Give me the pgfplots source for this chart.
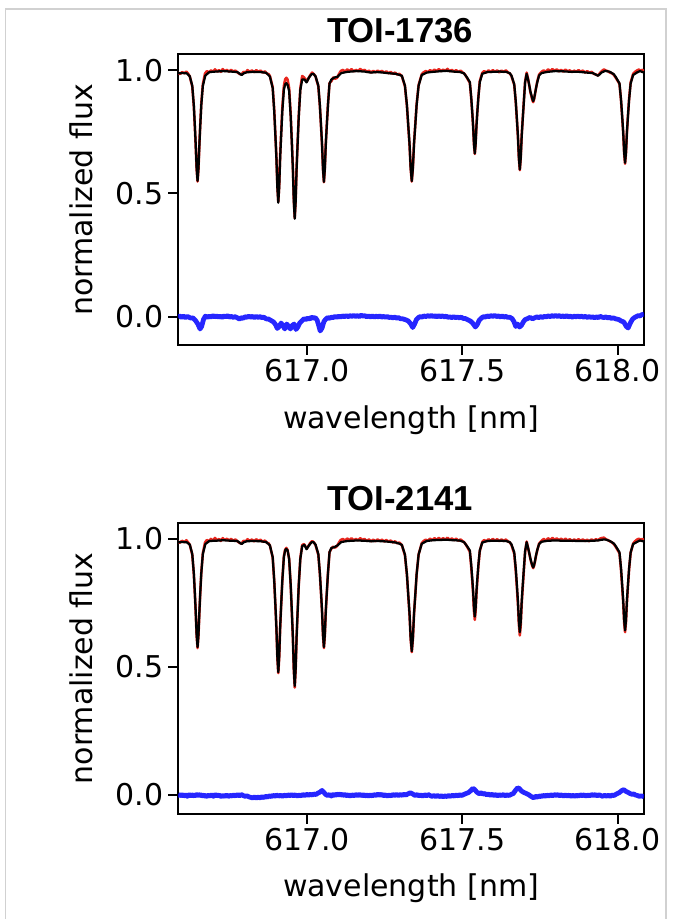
\documentclass[border=0pt]{standalone}
\usepackage{pgfplots}
\usepackage{pgfplotstable}
\pgfplotsset{compat=1.18}
\usepackage{fontspec}
\setmainfont{DejaVu Sans}
\newfontfamily\titlefont{Liberation Sans}
\definecolor{obsred}{RGB}{232,38,30}
\definecolor{resblue}{RGB}{0,0,255}
\newcommand{\lab}{\fontsize{22.5}{27}\selectfont}

% ---------------- TOI-1736 ----------------
\pgfplotstableread{
x y
616.584 0.990
616.590 0.984
616.597 0.992
616.604 0.987
616.611 0.994
616.617 0.985
616.622 0.974
616.630 0.933
616.635 0.852
616.6385 0.762
616.641 0.693
616.644 0.598
616.647 0.548
616.650 0.600
616.653 0.702
616.6555 0.775
616.659 0.864
616.664 0.942
616.671 0.986
616.677 0.996
616.684 0.990
616.690 0.999
616.697 0.993
616.703 1.003
616.710 0.994
616.716 1.000
616.722 0.993
616.728 1.004
616.735 0.996
616.742 1.001
616.748 0.993
616.755 1.001
616.762 0.994
616.769 0.998
616.776 0.990
616.783 0.984
616.789 0.983
616.795 0.993
616.802 0.990
616.808 1.000
616.815 0.992
616.822 0.999
616.829 0.991
616.836 1.000
616.843 0.993
616.850 0.998
616.857 0.990
616.864 0.995
616.870 0.986
616.876 0.984
616.880 0.976
616.889 0.931
616.894 0.838
616.898 0.730
616.901 0.647
616.904 0.530
616.907 0.466
616.910 0.532
616.913 0.652
616.916 0.738
616.920 0.848
616.925 0.936
616.929 0.962
616.933 0.969
616.937 0.962
616.942 0.927
616.947 0.820
616.951 0.702
616.954 0.605
616.957 0.472
616.960 0.400
616.963 0.472
616.966 0.603
616.969 0.698
616.973 0.818
616.978 0.926
616.984 0.976
616.990 0.970
616.995 0.962
616.999 0.954
617.004 0.966
617.010 0.980
617.016 0.990
617.022 0.983
617.027 0.974
617.036 0.934
617.041 0.853
617.045 0.764
617.048 0.695
617.051 0.598
617.054 0.545
617.057 0.603
617.060 0.702
617.063 0.774
617.067 0.862
617.072 0.947
617.078 0.955
617.084 0.970
617.090 0.965
617.096 0.968
617.102 0.983
617.108 0.996
617.115 1.001
617.122 0.994
617.129 1.003
617.136 0.996
617.143 1.004
617.150 0.995
617.157 1.001
617.164 0.996
617.171 1.005
617.178 0.997
617.185 1.001
617.192 0.992
617.199 0.998
617.206 0.990
617.213 0.997
617.220 0.991
617.227 0.998
617.234 0.992
617.241 0.997
617.248 0.989
617.255 0.995
617.262 0.987
617.269 0.993
617.276 0.985
617.283 0.990
617.290 0.982
617.297 0.985
617.305 0.976
617.315 0.934
617.3214 0.853
617.326 0.765
617.3298 0.695
617.3334 0.600
617.337 0.548
617.3406 0.605
617.3442 0.704
617.348 0.775
617.3526 0.862
617.359 0.940
617.369 0.983
617.375 0.991
617.382 0.996
617.389 0.992
617.396 1.000
617.403 0.994
617.410 1.002
617.417 0.995
617.424 1.004
617.431 0.996
617.438 1.002
617.445 0.997
617.452 1.005
617.459 0.995
617.466 1.001
617.473 0.994
617.480 1.000
617.487 0.992
617.494 0.998
617.500 0.991
617.506 0.986
617.511 0.977
617.515 0.968
617.524 0.948
617.5283 0.888
617.532 0.822
617.5346 0.770
617.5373 0.698
617.540 0.660
617.5427 0.703
617.5454 0.778
617.548 0.830
617.5517 0.895
617.556 0.955
617.564 0.989
617.570 0.996
617.577 0.990
617.584 0.999
617.591 0.992
617.598 1.000
617.605 0.993
617.612 0.999
617.619 0.991
617.626 0.998
617.633 0.992
617.640 0.999
617.647 0.990
617.653 0.986
617.658 0.976
617.667 0.940
617.672 0.868
617.676 0.789
617.679 0.727
617.682 0.640
617.685 0.594
617.688 0.646
617.691 0.735
617.694 0.797
617.698 0.876
617.702 0.953
617.707 0.990
617.712 0.962
617.716 0.933
617.719 0.910
617.722 0.896
617.725 0.880
617.728 0.870
617.731 0.882
617.734 0.903
617.737 0.926
617.741 0.953
617.747 0.982
617.755 0.993
617.762 0.999
617.769 0.993
617.776 1.003
617.783 0.996
617.790 1.004
617.797 0.997
617.804 1.003
617.811 0.995
617.818 1.001
617.825 0.994
617.832 1.002
617.839 0.995
617.846 0.999
617.853 0.992
617.860 0.998
617.867 0.993
617.874 1.000
617.881 0.994
617.888 0.998
617.895 0.990
617.902 0.996
617.909 0.989
617.916 0.993
617.923 0.985
617.930 0.982
617.937 0.978
617.943 0.988
617.950 0.997
617.956 1.003
617.962 0.998
617.968 0.996
617.975 0.990
617.982 0.987
617.988 0.980
617.995 0.967
618.006 0.944
618.011 0.876
618.015 0.803
618.018 0.744
618.021 0.664
618.024 0.620
618.027 0.666
618.030 0.748
618.033 0.810
618.037 0.884
618.042 0.950
618.050 0.985
618.056 0.993
618.062 0.998
618.068 1.002
618.074 0.998
618.080 1.001
618.085 0.996
}\topobs

\pgfplotstableread{
x y
616.584 0.987
616.600 0.988
616.612 0.987
616.622 0.975
616.630 0.936
616.635 0.857
616.6385 0.769
616.641 0.700
616.644 0.603
616.647 0.551
616.650 0.603
616.653 0.700
616.6555 0.769
616.659 0.857
616.664 0.936
616.672 0.978
616.685 0.992
616.705 0.994
616.730 0.996
616.755 0.994
616.775 0.992
616.782 0.986
616.789 0.980
616.796 0.987
616.805 0.991
616.825 0.993
616.850 0.992
616.868 0.989
616.880 0.974
616.889 0.927
616.894 0.832
616.898 0.726
616.901 0.642
616.904 0.525
616.907 0.462
616.910 0.525
616.913 0.642
616.916 0.726
616.920 0.832
616.925 0.920
616.929 0.942
616.933 0.947
616.937 0.940
616.942 0.915
616.947 0.812
616.951 0.693
616.954 0.599
616.957 0.468
616.960 0.397
616.963 0.468
616.966 0.599
616.969 0.693
616.973 0.812
616.978 0.919
616.984 0.962
616.991 0.962
616.998 0.950
617.006 0.970
617.014 0.983
617.020 0.985
617.027 0.975
617.036 0.937
617.041 0.857
617.045 0.768
617.048 0.698
617.051 0.600
617.054 0.547
617.057 0.600
617.060 0.698
617.063 0.768
617.067 0.857
617.072 0.945
617.078 0.962
617.088 0.970
617.098 0.973
617.110 0.988
617.130 0.993
617.160 0.996
617.185 0.994
617.205 0.990
617.225 0.992
617.245 0.990
617.265 0.987
617.285 0.985
617.296 0.981
617.305 0.977
617.315 0.937
617.3214 0.858
617.326 0.770
617.3298 0.700
617.3334 0.603
617.337 0.550
617.3406 0.603
617.3442 0.700
617.348 0.770
617.3526 0.858
617.359 0.937
617.369 0.980
617.385 0.990
617.405 0.993
617.425 0.995
617.450 0.997
617.470 0.994
617.490 0.993
617.505 0.987
617.515 0.970
617.524 0.951
617.5283 0.892
617.532 0.826
617.5346 0.774
617.5373 0.701
617.540 0.662
617.5427 0.701
617.5454 0.774
617.548 0.826
617.5517 0.892
617.556 0.951
617.564 0.985
617.580 0.992
617.600 0.993
617.620 0.994
617.640 0.993
617.652 0.988
617.658 0.978
617.667 0.943
617.672 0.872
617.676 0.793
617.679 0.731
617.682 0.644
617.685 0.597
617.688 0.644
617.691 0.731
617.694 0.793
617.698 0.872
617.702 0.950
617.707 0.985
617.712 0.960
617.716 0.935
617.719 0.914
617.722 0.900
617.725 0.885
617.728 0.874
617.731 0.885
617.734 0.905
617.737 0.925
617.741 0.950
617.747 0.978
617.755 0.988
617.775 0.993
617.800 0.996
617.825 0.995
617.850 0.993
617.875 0.993
617.900 0.990
617.920 0.988
617.937 0.977
617.948 0.990
617.960 0.997
617.975 0.993
617.988 0.983
617.995 0.970
618.006 0.946
618.011 0.880
618.015 0.807
618.018 0.748
618.021 0.668
618.024 0.624
618.027 0.668
618.030 0.748
618.033 0.807
618.037 0.880
618.042 0.946
618.050 0.980
618.062 0.990
618.072 0.996
618.085 0.990
}\topmod

\pgfplotstableread{
x y
616.584 -0.002
616.590 0.003
616.596 -0.003
616.602 0.002
616.608 -0.004
616.614 0.001
616.620 -0.003
616.626 -0.006
616.632 -0.005
616.640 -0.015
616.648 -0.030
616.655 -0.050
616.660 -0.040
616.666 -0.012
616.672 0.002
616.678 -0.003
616.684 0.002
616.690 -0.002
616.696 0.004
616.702 -0.001
616.708 0.003
616.714 -0.002
616.720 0.002
616.726 -0.003
616.732 0.003
616.738 -0.001
616.744 0.004
616.750 -0.002
616.756 0.001
616.762 -0.003
616.768 0.000
616.774 -0.004
616.782 -0.010
616.788 -0.004
616.794 -0.007
616.800 0.000
616.806 -0.003
616.812 0.002
616.818 -0.002
616.824 0.001
616.830 -0.004
616.836 0.001
616.842 -0.003
616.848 0.000
616.854 -0.004
616.860 -0.002
616.868 -0.009
616.876 -0.010
616.884 -0.016
616.892 -0.022
616.898 -0.032
616.904 -0.048
616.910 -0.040
616.916 -0.026
616.922 -0.036
616.928 -0.050
616.934 -0.030
616.940 -0.038
616.946 -0.050
616.952 -0.036
616.958 -0.030
616.964 -0.052
616.970 -0.042
616.976 -0.026
616.984 -0.016
616.990 -0.008
616.996 -0.012
617.002 -0.006
617.008 -0.010
617.014 -0.002
617.020 -0.006
617.026 -0.004
617.032 -0.014
617.036 -0.030
617.042 -0.058
617.048 -0.046
617.054 -0.020
617.060 -0.010
617.066 -0.004
617.072 -0.007
617.078 -0.002
617.084 -0.004
617.090 0.001
617.096 -0.003
617.102 0.002
617.108 -0.002
617.114 0.003
617.120 0.000
617.126 0.004
617.132 0.000
617.138 0.004
617.144 0.001
617.150 0.005
617.156 0.001
617.162 0.004
617.168 0.000
617.174 0.006
617.180 0.002
617.186 0.004
617.192 -0.001
617.198 0.003
617.204 -0.001
617.210 0.003
617.216 -0.002
617.222 0.002
617.228 -0.001
617.234 0.003
617.240 -0.002
617.246 0.001
617.252 -0.003
617.258 0.001
617.264 -0.004
617.270 -0.002
617.276 -0.005
617.282 -0.002
617.288 -0.006
617.294 -0.004
617.300 -0.008
617.308 -0.009
617.318 -0.013
617.326 -0.018
617.334 -0.030
617.340 -0.044
617.346 -0.030
617.352 -0.012
617.358 -0.004
617.364 0.000
617.370 -0.002
617.376 0.003
617.382 0.000
617.388 0.004
617.394 0.001
617.400 0.005
617.406 0.000
617.412 0.004
617.418 -0.001
617.424 0.004
617.430 0.000
617.436 0.003
617.442 -0.001
617.448 0.002
617.454 -0.003
617.460 -0.001
617.466 -0.004
617.472 0.000
617.478 -0.004
617.484 -0.002
617.490 -0.005
617.496 -0.002
617.502 -0.007
617.510 -0.008
617.518 -0.013
617.526 -0.018
617.534 -0.028
617.542 -0.042
617.548 -0.032
617.554 -0.015
617.562 -0.005
617.568 0.000
617.574 -0.002
617.580 0.003
617.586 0.000
617.592 0.004
617.598 0.001
617.604 0.005
617.610 0.000
617.616 0.003
617.622 -0.001
617.628 0.003
617.634 -0.002
617.640 0.001
617.646 -0.003
617.652 -0.002
617.660 -0.008
617.666 -0.020
617.672 -0.040
617.678 -0.030
617.684 -0.042
617.690 -0.036
617.696 -0.022
617.702 -0.012
617.710 -0.008
617.718 -0.003
617.726 -0.009
617.734 -0.004
617.740 -0.001
617.746 -0.004
617.752 0.000
617.758 -0.003
617.764 0.001
617.770 -0.001
617.776 0.003
617.782 0.000
617.788 0.004
617.794 0.001
617.800 0.005
617.806 0.001
617.812 0.004
617.818 0.000
617.824 0.003
617.830 -0.001
617.836 0.004
617.842 -0.001
617.848 0.002
617.854 -0.002
617.860 0.002
617.866 -0.001
617.872 0.003
617.878 -0.001
617.884 0.002
617.890 -0.002
617.896 0.001
617.902 -0.003
617.908 0.000
617.914 -0.003
617.920 -0.001
617.926 -0.005
617.932 -0.001
617.938 -0.004
617.944 0.001
617.950 -0.002
617.956 -0.004
617.962 -0.001
617.968 -0.005
617.974 -0.003
617.980 -0.007
617.986 -0.005
617.994 -0.009
618.004 -0.012
618.012 -0.018
618.020 -0.022
618.028 -0.040
618.034 -0.046
618.040 -0.028
618.048 -0.010
618.054 -0.004
618.060 0.000
618.066 0.004
618.072 0.003
618.078 0.008
618.085 0.010
}\topres

% ---------------- TOI-2141 ----------------
\pgfplotstableread{
x y
616.584 0.990
616.590 0.985
616.597 0.993
616.604 0.987
616.611 0.995
616.617 0.986
616.622 0.977
616.630 0.938
616.635 0.862
616.6385 0.780
616.641 0.714
616.644 0.622
616.647 0.574
616.650 0.624
616.653 0.716
616.6555 0.784
616.659 0.868
616.664 0.944
616.671 0.986
616.677 0.996
616.684 0.991
616.690 1.000
616.697 0.993
616.703 1.004
616.710 0.994
616.716 1.000
616.722 0.992
616.728 1.003
616.735 0.995
616.742 1.001
616.748 0.993
616.755 1.000
616.762 0.993
616.769 0.998
616.776 0.990
616.783 0.984
616.789 0.982
616.795 0.993
616.802 0.990
616.808 0.999
616.815 0.992
616.822 0.998
616.829 0.990
616.836 0.999
616.843 0.992
616.850 0.997
616.857 0.989
616.864 0.994
616.870 0.985
616.876 0.983
616.880 0.974
616.889 0.928
616.894 0.834
616.898 0.731
616.901 0.648
616.904 0.536
616.907 0.476
616.910 0.538
616.913 0.650
616.916 0.734
616.920 0.838
616.925 0.932
616.929 0.958
616.933 0.965
616.937 0.957
616.942 0.922
616.947 0.818
616.951 0.704
616.954 0.613
616.957 0.488
616.960 0.420
616.963 0.490
616.966 0.615
616.969 0.706
616.973 0.822
616.978 0.925
616.984 0.976
616.990 0.980
616.995 0.970
616.999 0.962
617.004 0.972
617.010 0.985
617.016 0.992
617.022 0.986
617.027 0.976
617.036 0.938
617.041 0.862
617.045 0.780
617.048 0.714
617.051 0.622
617.054 0.574
617.057 0.624
617.060 0.716
617.063 0.784
617.067 0.866
617.072 0.948
617.078 0.962
617.084 0.970
617.090 0.966
617.096 0.972
617.102 0.985
617.108 0.996
617.115 1.000
617.122 0.993
617.129 1.002
617.136 0.995
617.143 1.003
617.150 0.994
617.157 1.000
617.164 0.995
617.171 1.003
617.178 0.996
617.185 1.000
617.192 0.992
617.199 0.998
617.206 0.991
617.213 0.997
617.220 0.991
617.227 0.998
617.234 0.992
617.241 0.997
617.248 0.990
617.255 0.996
617.262 0.989
617.269 0.994
617.276 0.986
617.283 0.991
617.290 0.983
617.297 0.986
617.305 0.976
617.315 0.936
617.3214 0.858
617.326 0.772
617.3298 0.703
617.3334 0.608
617.337 0.558
617.3406 0.610
617.3442 0.706
617.348 0.775
617.3526 0.862
617.359 0.940
617.369 0.983
617.375 0.992
617.382 0.997
617.389 0.993
617.396 1.001
617.403 0.995
617.410 1.003
617.417 0.996
617.424 1.004
617.431 0.997
617.438 1.003
617.445 0.997
617.452 1.005
617.459 0.996
617.466 1.002
617.473 0.995
617.480 1.001
617.487 0.993
617.494 0.998
617.500 0.992
617.506 0.987
617.511 0.978
617.515 0.970
617.524 0.950
617.5283 0.893
617.532 0.832
617.5346 0.784
617.5373 0.718
617.540 0.684
617.5427 0.720
617.5454 0.786
617.548 0.834
617.5517 0.896
617.556 0.952
617.564 0.988
617.570 0.996
617.577 0.990
617.584 0.999
617.591 0.992
617.598 1.000
617.605 0.993
617.612 0.999
617.619 0.991
617.626 0.998
617.633 0.992
617.640 0.998
617.647 0.990
617.653 0.986
617.658 0.977
617.667 0.942
617.672 0.874
617.676 0.801
617.679 0.743
617.682 0.665
617.685 0.623
617.688 0.666
617.691 0.745
617.694 0.803
617.698 0.877
617.702 0.948
617.707 0.990
617.712 0.963
617.716 0.940
617.719 0.922
617.722 0.907
617.725 0.895
617.728 0.886
617.731 0.896
617.734 0.913
617.737 0.933
617.741 0.955
617.747 0.982
617.755 0.993
617.762 1.000
617.769 0.993
617.776 1.003
617.783 0.996
617.790 1.004
617.797 0.997
617.804 1.002
617.811 0.995
617.818 1.001
617.825 0.994
617.832 1.001
617.839 0.994
617.846 0.999
617.853 0.992
617.860 0.998
617.867 0.993
617.874 0.999
617.881 0.993
617.888 0.998
617.895 0.992
617.902 0.997
617.909 0.991
617.916 0.998
617.923 0.993
617.930 0.999
617.937 0.995
617.943 1.001
617.950 1.004
617.956 1.005
617.962 0.999
617.968 0.996
617.975 0.991
617.982 0.986
617.988 0.980
617.995 0.967
618.006 0.944
618.011 0.878
618.015 0.806
618.018 0.750
618.021 0.674
618.024 0.636
618.027 0.676
618.030 0.752
618.033 0.810
618.037 0.882
618.042 0.946
618.050 0.982
618.056 0.991
618.062 0.997
618.068 1.001
618.074 0.997
618.080 1.000
618.085 0.995
}\botobs

\pgfplotstableread{
x y
616.584 0.987
616.600 0.988
616.612 0.987
616.622 0.978
616.630 0.941
616.635 0.866
616.6385 0.784
616.641 0.718
616.644 0.627
616.647 0.578
616.650 0.627
616.653 0.718
616.6555 0.784
616.659 0.866
616.664 0.941
616.672 0.980
616.685 0.992
616.705 0.993
616.730 0.995
616.755 0.993
616.775 0.992
616.782 0.986
616.789 0.980
616.796 0.987
616.805 0.991
616.825 0.992
616.850 0.991
616.868 0.988
616.880 0.975
616.889 0.929
616.894 0.837
616.898 0.735
616.901 0.653
616.904 0.541
616.907 0.480
616.910 0.541
616.913 0.653
616.916 0.735
616.920 0.837
616.925 0.929
616.929 0.955
616.933 0.961
616.937 0.955
616.942 0.922
616.947 0.821
616.951 0.708
616.954 0.618
616.957 0.494
616.960 0.426
616.963 0.494
616.966 0.618
616.969 0.708
616.973 0.821
616.978 0.922
616.984 0.972
616.991 0.977
616.998 0.960
617.006 0.975
617.014 0.987
617.020 0.988
617.027 0.978
617.036 0.941
617.041 0.866
617.045 0.784
617.048 0.718
617.051 0.627
617.054 0.578
617.057 0.627
617.060 0.718
617.063 0.784
617.067 0.866
617.072 0.948
617.078 0.965
617.088 0.968
617.098 0.975
617.110 0.988
617.130 0.992
617.160 0.994
617.185 0.993
617.205 0.991
617.225 0.992
617.245 0.991
617.265 0.989
617.285 0.986
617.296 0.982
617.305 0.977
617.315 0.939
617.3214 0.862
617.326 0.776
617.3298 0.708
617.3334 0.613
617.337 0.562
617.3406 0.613
617.3442 0.708
617.348 0.776
617.3526 0.862
617.359 0.939
617.369 0.981
617.385 0.992
617.405 0.995
617.425 0.996
617.450 0.997
617.470 0.995
617.490 0.994
617.505 0.988
617.515 0.972
617.524 0.955
617.5283 0.902
617.532 0.843
617.5346 0.797
617.5373 0.732
617.540 0.697
617.5427 0.732
617.5454 0.797
617.548 0.843
617.5517 0.902
617.556 0.955
617.564 0.986
617.580 0.992
617.600 0.993
617.620 0.993
617.640 0.992
617.652 0.988
617.658 0.979
617.667 0.948
617.672 0.884
617.676 0.813
617.679 0.756
617.682 0.678
617.685 0.636
617.688 0.678
617.691 0.756
617.694 0.813
617.698 0.884
617.702 0.952
617.707 0.987
617.712 0.963
617.716 0.942
617.719 0.924
617.722 0.910
617.725 0.898
617.728 0.889
617.731 0.898
617.734 0.915
617.737 0.935
617.741 0.956
617.747 0.980
617.755 0.989
617.775 0.993
617.800 0.994
617.825 0.993
617.850 0.993
617.875 0.992
617.900 0.992
617.920 0.993
617.937 0.994
617.948 0.997
617.960 0.998
617.975 0.992
617.988 0.982
617.995 0.970
618.006 0.948
618.011 0.886
618.015 0.816
618.018 0.761
618.021 0.685
618.024 0.643
618.027 0.685
618.030 0.761
618.033 0.816
618.037 0.886
618.042 0.948
618.050 0.980
618.062 0.988
618.072 0.994
618.085 0.990
}\botmod

\pgfplotstableread{
x y
616.584 0.003
616.590 -0.003
616.596 0.002
616.602 -0.004
616.608 0.001
616.614 -0.005
616.620 0.002
616.626 -0.003
616.632 0.001
616.638 -0.004
616.644 0.003
616.650 -0.002
616.656 0.002
616.662 -0.004
616.668 0.000
616.674 -0.006
616.680 -0.001
616.686 -0.004
616.692 0.001
616.698 -0.005
616.704 0.002
616.710 -0.003
616.716 0.000
616.722 -0.006
616.728 -0.002
616.734 -0.005
616.740 0.000
616.746 -0.006
616.752 -0.001
616.758 -0.004
616.764 0.001
616.770 -0.004
616.776 0.002
616.782 -0.003
616.788 0.002
616.794 -0.002
616.800 -0.005
616.806 -0.003
616.812 -0.007
616.818 -0.009
616.824 -0.011
616.830 -0.008
616.836 -0.012
616.842 -0.008
616.848 -0.011
616.854 -0.007
616.860 -0.010
616.866 -0.005
616.872 -0.008
616.878 -0.003
616.884 -0.006
616.890 -0.001
616.896 -0.005
616.902 0.000
616.908 -0.004
616.914 -0.001
616.920 -0.005
616.926 0.000
616.932 -0.004
616.938 0.001
616.944 -0.003
616.950 0.002
616.956 -0.003
616.962 0.001
616.968 -0.004
616.974 0.000
616.980 -0.003
616.986 0.002
616.992 -0.002
616.998 0.003
617.004 -0.001
617.010 0.003
617.016 0.000
617.022 0.004
617.028 0.002
617.034 0.007
617.042 0.012
617.048 0.018
617.054 0.010
617.060 0.002
617.066 -0.002
617.072 0.002
617.078 -0.004
617.084 0.003
617.090 -0.002
617.096 0.004
617.102 0.000
617.108 0.004
617.114 -0.002
617.120 0.003
617.126 -0.003
617.132 0.001
617.138 -0.004
617.144 0.001
617.150 -0.003
617.156 0.002
617.162 -0.002
617.168 0.003
617.174 -0.003
617.180 0.002
617.186 -0.004
617.192 0.001
617.198 -0.004
617.204 0.000
617.210 -0.003
617.216 0.002
617.222 -0.002
617.228 0.004
617.234 -0.001
617.240 0.003
617.246 -0.003
617.252 0.001
617.258 -0.004
617.264 0.000
617.270 -0.003
617.276 0.002
617.282 -0.002
617.288 0.003
617.294 -0.002
617.300 0.002
617.306 -0.001
617.312 0.003
617.318 0.000
617.324 0.004
617.332 0.009
617.340 0.004
617.348 -0.002
617.354 0.002
617.360 -0.003
617.366 0.000
617.372 -0.004
617.378 0.001
617.384 -0.003
617.390 0.002
617.396 -0.002
617.402 -0.005
617.408 -0.002
617.414 -0.006
617.420 -0.002
617.426 -0.006
617.432 -0.003
617.438 -0.007
617.444 -0.003
617.450 -0.006
617.456 -0.002
617.462 -0.005
617.468 -0.001
617.474 -0.004
617.480 0.000
617.486 -0.003
617.492 0.001
617.498 -0.002
617.504 0.002
617.512 0.006
617.520 0.010
617.526 0.016
617.534 0.026
617.540 0.021
617.546 0.012
617.554 0.005
617.560 0.009
617.566 0.004
617.572 0.006
617.578 0.001
617.584 0.004
617.590 -0.001
617.596 0.003
617.602 -0.002
617.608 0.002
617.614 -0.003
617.620 0.001
617.626 -0.002
617.632 0.002
617.638 -0.003
617.644 0.001
617.650 -0.002
617.656 0.002
617.664 0.006
617.672 0.020
617.678 0.028
617.684 0.025
617.690 0.016
617.698 0.010
617.706 0.006
617.714 0.001
617.722 -0.006
617.730 -0.011
617.736 -0.004
617.742 -0.009
617.748 -0.003
617.754 -0.006
617.760 -0.001
617.766 -0.005
617.772 0.000
617.778 -0.004
617.784 0.001
617.790 -0.003
617.796 0.002
617.802 -0.002
617.808 0.002
617.814 -0.003
617.820 0.001
617.826 -0.004
617.832 0.000
617.838 -0.004
617.844 0.000
617.850 -0.005
617.856 -0.001
617.862 -0.005
617.868 -0.001
617.874 -0.004
617.880 0.001
617.886 -0.003
617.892 0.001
617.898 -0.004
617.904 0.000
617.910 -0.003
617.916 0.002
617.922 -0.002
617.928 0.002
617.934 -0.003
617.940 0.001
617.946 -0.002
617.952 -0.005
617.958 -0.001
617.964 -0.004
617.970 -0.001
617.976 -0.005
617.982 0.000
617.988 -0.002
617.996 0.004
618.006 0.010
618.014 0.018
618.020 0.021
618.026 0.015
618.034 0.010
618.040 0.006
618.046 0.003
618.052 0.004
618.058 0.000
618.064 -0.002
618.070 -0.005
618.076 -0.003
618.085 -0.007
}\botres

\pgfplotsset{spec/.style={
  scale only axis, width=349.5pt, height=218pt,
  anchor=south west,
  xmin=616.584, xmax=618.085,
  xtick={617,617.5,618}, xticklabels={617.0,617.5,618.0},
  ytick={0,0.5,1}, yticklabels={0.0,0.5,1.0},
  tick align=outside, xtick pos=bottom, ytick pos=left,
  major tick length=7.5pt,
  every tick/.style={line width=1.5pt, black},
  axis line style={line width=1.6pt},
  tick label style={font=\lab},
  clip=true,
}}

\begin{document}
\begin{tikzpicture}
\useasboundingbox (0,0) rectangle (512.25pt,689.25pt);
\draw[black!18, line width=0.8pt] (4.1pt,-1pt) -- (4.1pt,682.5pt) -- (499.5pt,682.5pt) -- (499.5pt,-1pt);

\begin{axis}[spec, at={(133.5pt,430.5pt)}, ymin=-0.115, ymax=1.064]
\addplot[obsred, line width=1.9pt, line join=round] table[x=x,y=y]{\topobs};
\addplot[black, line width=1.7pt, line join=round] table[x=x,y=y]{\topmod};
\addplot[resblue, opacity=0.85, line width=3.6pt, line join=round] table[x=x,y=y]{\topres};
\end{axis}

\begin{axis}[spec, at={(133.5pt,78.75pt)}, ymin=-0.074, ymax=1.061]
\addplot[obsred, line width=1.9pt, line join=round] table[x=x,y=y]{\botobs};
\addplot[black, line width=1.7pt, line join=round] table[x=x,y=y]{\botmod};
\addplot[resblue, opacity=0.85, line width=3.6pt, line join=round] table[x=x,y=y]{\botres};
\end{axis}

\node[anchor=base, font=\titlefont\bfseries\fontsize{26}{30}\selectfont] at (300pt,657pt) {TOI-1736};
\node[anchor=base, font=\titlefont\bfseries\fontsize{26}{30}\selectfont] at (300pt,306pt) {TOI-2141};
\node[anchor=base, font=\lab] at (308.25pt,368pt) {wavelength [nm]};
\node[anchor=base, font=\lab] at (308.25pt,16.5pt) {wavelength [nm]};
\node[rotate=90, font=\lab] at (61pt,539.25pt) {normalized flux};
\node[rotate=90, font=\lab] at (61pt,188pt) {normalized flux};
\end{tikzpicture}
\end{document}
